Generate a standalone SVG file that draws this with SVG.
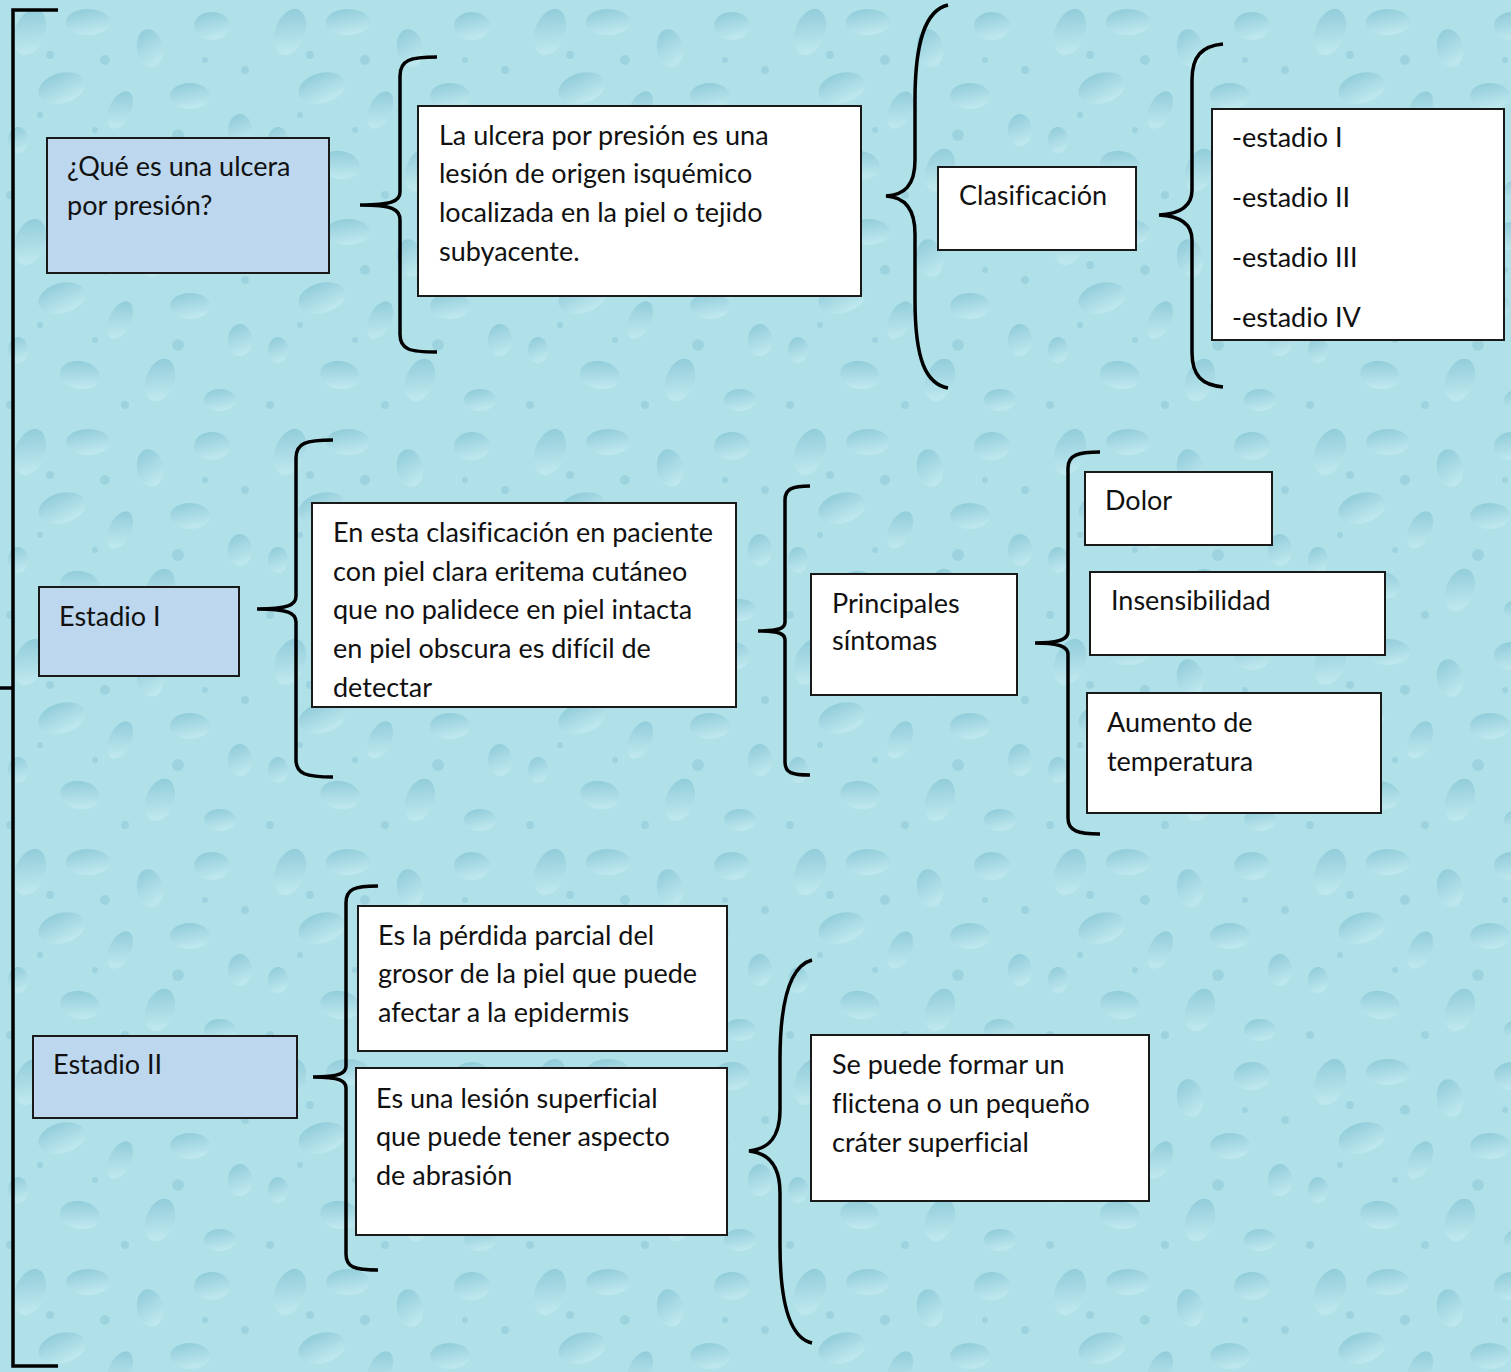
<svg xmlns="http://www.w3.org/2000/svg" width="1511" height="1372" viewBox="0 0 1511 1372">
<style>
.box{fill:#ffffff;stroke:#1a1a1a;stroke-width:2}
.blue{fill:#bdd7ee;stroke:#1a1a1a;stroke-width:2}
.t{font-family:Lato,"Liberation Sans",sans-serif;font-size:27px;fill:#111;font-variant-ligatures:none;font-feature-settings:"liga" 0}
.br{fill:none;stroke:#000;stroke-width:3.5;stroke-linecap:butt}
.d{fill:url(#dg);opacity:0.55}
.s{fill:#98cfdb;opacity:0.8}
</style>
<defs>
<linearGradient id="dg" x1="0" y1="0" x2="0.3" y2="1">
<stop offset="0" stop-color="#6fb6ca"/>
<stop offset="1" stop-color="#c8ecf1"/>
</linearGradient>
<pattern id="drops" width="260" height="210" patternUnits="userSpaceOnUse">
<rect width="260" height="210" fill="#b0e1e9"/>
<ellipse class="d" cx="30" cy="32" rx="15" ry="24" transform="rotate(20 30 32)"/>
<ellipse class="d" cx="88" cy="22" rx="22" ry="13"/>
<ellipse class="d" cx="150" cy="48" rx="13" ry="19" transform="rotate(-10 150 48)"/>
<ellipse class="d" cx="212" cy="26" rx="18" ry="14"/>
<ellipse class="d" cx="62" cy="88" rx="24" ry="15" transform="rotate(-15 62 88)"/>
<ellipse class="d" cx="120" cy="110" rx="11" ry="20" transform="rotate(25 120 110)"/>
<ellipse class="d" cx="190" cy="96" rx="20" ry="13"/>
<ellipse class="d" cx="240" cy="130" rx="12" ry="16"/>
<ellipse class="d" cx="18" cy="140" rx="10" ry="13"/>
<ellipse class="d" cx="80" cy="165" rx="20" ry="14" transform="rotate(10 80 165)"/>
<ellipse class="d" cx="160" cy="170" rx="14" ry="22" transform="rotate(20 160 170)"/>
<ellipse class="d" cx="220" cy="190" rx="16" ry="11"/>
<circle class="s" cx="105" cy="60" r="5"/>
<circle class="s" cx="50" cy="55" r="4"/>
<circle class="s" cx="245" cy="70" r="4"/>
<circle class="s" cx="178" cy="135" r="6"/>
<circle class="s" cx="40" cy="115" r="3"/>
<circle class="s" cx="125" cy="195" r="4"/>
<circle class="s" cx="205" cy="60" r="3"/>
<circle class="s" cx="10" cy="195" r="4"/>
<circle class="s" cx="95" cy="130" r="3"/>
</pattern>
</defs>
<rect width="1511" height="1372" fill="url(#drops)"/>

<g id="connectors">
<path class="br" d="M58,10 L13,10 L13,1366 L58,1366 M13,688 L0,688"/>
<path class="br" d="M437,57 C410,57 400,60 400,76 L400,192 C400,201 392,205 360,205 C392,205 400,209 400,220 L400,334 C400,350 410,352 437,352"/>
<path class="br" d="M948,5 C926,10 915,40 915,100 L915,160 C915,186 904,195 886,196 C904,197 915,208 915,234 L915,300 C915,360 926,384 948,388"/>
<path class="br" d="M1223,44 C1202,46 1192,56 1192,80 L1192,190 C1192,208 1178,214 1159,215 C1178,216 1192,222 1192,240 L1192,352 C1192,376 1202,385 1223,387"/>
<path class="br" d="M333,440 C306,440 296,443 296,458 L296,596 C296,605 288,609 257,609 C288,609 296,613 296,622 L296,760 C296,774 306,777 333,777"/>
<path class="br" d="M810,486 C792,486 785,489 785,500 L785,622 C785,628 780,631 758,631 C780,631 785,634 785,640 L785,762 C785,773 792,775 810,775"/>
<path class="br" d="M1100,452 C1078,452 1068,455 1068,468 L1068,632 C1068,639 1060,643 1035,643 C1060,643 1068,647 1068,654 L1068,818 C1068,831 1078,834 1100,834"/>
<path class="br" d="M378,886 C354,886 346,889 346,903 L346,1066 C346,1073 340,1077 313,1077 C340,1077 346,1081 346,1088 L346,1254 C346,1267 354,1270 378,1270"/>
<path class="br" d="M812,960 C790,966 780,1000 780,1060 L780,1110 C780,1138 768,1149 749,1151 C768,1153 780,1165 780,1193 L780,1245 C780,1305 790,1338 812,1343"/>
</g>

<g id="n-que">
<rect class="blue" x="47" y="138" width="282" height="135"/>
<text class="t" x="67" y="176">¿Qué es una ulcera</text>
<text class="t" x="67" y="215">por presión?</text>
</g>
<g id="n-def">
<rect class="box" x="418" y="106" width="443" height="190"/>
<text class="t" x="439" y="145">La ulcera por presión es una</text>
<text class="t" x="439" y="183">lesión de origen isquémico</text>
<text class="t" x="439" y="222">localizada en la piel o tejido</text>
<text class="t" x="439" y="261">subyacente.</text>
</g>
<g id="n-clasif">
<rect class="box" x="938" y="167" width="198" height="83"/>
<text class="t" x="959" y="205">Clasificación</text>
</g>
<g id="n-estadios">
<rect class="box" x="1212" y="109" width="292" height="231"/>
<text class="t" x="1232" y="147">-estadio I</text>
<text class="t" x="1232" y="207">-estadio II</text>
<text class="t" x="1232" y="267">-estadio III</text>
<text class="t" x="1232" y="327">-estadio IV</text>
</g>
<g id="n-estadio1">
<rect class="blue" x="39" y="587" width="200" height="89"/>
<text class="t" x="59" y="626">Estadio I</text>
</g>
<g id="n-enesta">
<rect class="box" x="312" y="503" width="424" height="204"/>
<text class="t" x="333" y="542">En esta clasificación en paciente</text>
<text class="t" x="333" y="581">con piel clara eritema cutáneo</text>
<text class="t" x="333" y="619">que no palidece en piel intacta</text>
<text class="t" x="333" y="658">en piel obscura es difícil de</text>
<text class="t" x="333" y="697">detectar</text>
</g>
<g id="n-principales">
<rect class="box" x="811" y="574" width="206" height="121"/>
<text class="t" x="832" y="613">Principales</text>
<text class="t" x="832" y="650">síntomas</text>
</g>
<g id="n-dolor">
<rect class="box" x="1085" y="472" width="187" height="73"/>
<text class="t" x="1105" y="510">Dolor</text>
</g>
<g id="n-insens">
<rect class="box" x="1090" y="572" width="295" height="83"/>
<text class="t" x="1111" y="610">Insensibilidad</text>
</g>
<g id="n-aumento">
<rect class="box" x="1087" y="693" width="294" height="120"/>
<text class="t" x="1107" y="732">Aumento de</text>
<text class="t" x="1107" y="771">temperatura</text>
</g>
<g id="n-estadio2">
<rect class="blue" x="33" y="1036" width="264" height="82"/>
<text class="t" x="53" y="1074">Estadio II</text>
</g>
<g id="n-perdida">
<rect class="box" x="358" y="906" width="369" height="145"/>
<text class="t" x="378" y="945">Es la pérdida parcial del</text>
<text class="t" x="378" y="983">grosor de la piel que puede</text>
<text class="t" x="378" y="1022">afectar a la epidermis</text>
</g>
<g id="n-lesion">
<rect class="box" x="356" y="1068" width="371" height="167"/>
<text class="t" x="376" y="1108">Es una lesión superficial</text>
<text class="t" x="376" y="1146">que puede tener aspecto</text>
<text class="t" x="376" y="1185">de abrasión</text>
</g>
<g id="n-flictena">
<rect class="box" x="811" y="1035" width="338" height="166"/>
<text class="t" x="832" y="1074">Se puede formar un</text>
<text class="t" x="832" y="1113">flictena o un pequeño</text>
<text class="t" x="832" y="1152">cráter superficial</text>
</g>
</svg>
